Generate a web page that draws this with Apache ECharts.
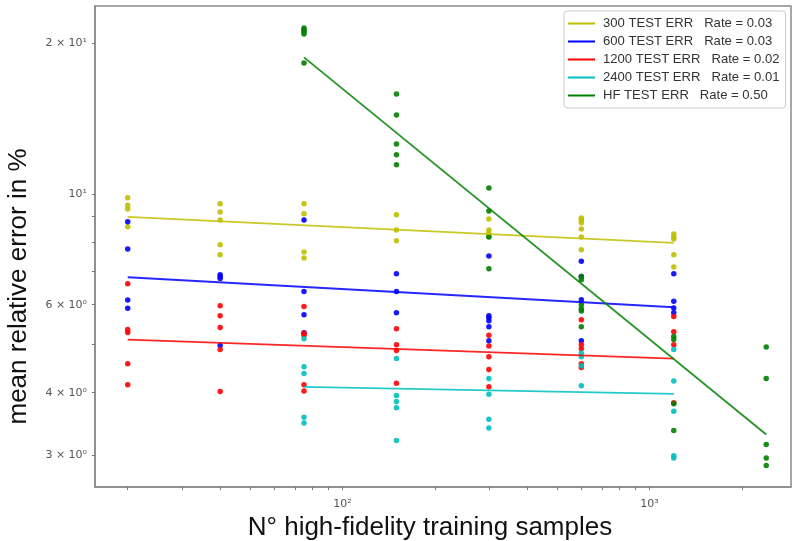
<!DOCTYPE html>
<html><head><meta charset="utf-8">
<script src="https://cdn.jsdelivr.net/npm/echarts@6/dist/echarts.min.js"></script>
<style>html,body{margin:0;padding:0;background:#fff}#c{width:792px;height:541px}</style>
</head><body><div id="c"></div>
<script>
// N° of high-fidelity training samples (x columns)
const xSamples = [20, 40, 75, 150, 300, 600, 1200, 2400];

// mean relative error (%) per column, for each model
const err300 = [
  [9.82, 9.49, 9.33, 8.59],
  [9.55, 9.20, 8.87, 7.91, 7.55],
  [9.55, 9.12, 7.65, 7.44],
  [9.08, 8.47, 8.06],
  [8.91, 8.47, 8.35, 8.22],
  [8.95, 8.87, 8.75, 8.51, 8.20, 7.73],
  [8.31, 8.20, 8.12, 7.55, 7.14],
  []
];
const err600 = [
  [8.79, 7.76, 6.13, 5.90],
  [6.89, 6.83, 6.77, 4.97],
  [8.87, 6.38, 5.73, 5.27],
  [6.92, 6.38, 5.78],
  [7.51, 5.70, 5.65, 5.57, 5.42, 5.08],
  [7.33, 6.83, 6.14, 5.08],
  [6.92, 6.10, 5.91, 5.78],
  []
];
const err1200 = [
  [6.61, 5.35, 5.28, 4.57, 4.15],
  [5.97, 5.70, 5.40, 4.88, 4.02],
  [5.95, 5.26, 5.21, 4.15, 4.03],
  [5.37, 4.99, 4.86, 4.18],
  [5.21, 4.96, 4.72, 4.45, 4.11],
  [5.60, 4.99, 4.90, 4.57, 4.49],
  [5.68, 5.30, 4.99, 3.82],
  []
];
const err2400 = [
  [],
  [],
  [5.13, 4.51, 4.37, 3.57, 3.48],
  [4.68, 3.95, 3.84, 3.73, 3.21],
  [4.27, 3.97, 3.54, 3.40],
  [4.80, 4.72, 4.53, 4.13],
  [4.88, 4.22, 3.67, 2.99, 2.96],
  []
];
const errHF = [
  [],
  [],
  [21.48, 21.28, 21.10, 20.90, 18.28],
  [15.85, 14.39, 12.59, 11.97, 11.43],
  [10.28, 9.24, 8.20, 7.08],
  [6.83, 6.73, 6.00, 5.89, 5.83, 5.42],
  [5.18, 5.11, 3.80, 3.36],
  [4.94, 4.27, 3.15, 2.96, 2.86]
];

// fitted power-law lines (endpoints)
const fitX300 = [20, 1200],  fitY300 = [8.99, 7.98];
const fitX600 = [20, 1200],  fitY600 = [6.81, 5.93];
const fitX1200 = [20, 1200], fitY1200 = [5.11, 4.68];
const fitX2400 = [75, 1200], fitY2400 = [4.11, 3.98];
const fitXHF = [75, 2400],   fitYHF = [18.76, 3.30];

const legendNames = [
  '300 TEST ERR   Rate = 0.03',
  '600 TEST ERR   Rate = 0.03',
  '1200 TEST ERR   Rate = 0.02',
  '2400 TEST ERR   Rate = 0.01',
  'HF TEST ERR   Rate = 0.50'
];

// axis ticks / labels
const xTickValues = [20,30,40,50,60,70,80,90,100,200,300,400,500,600,700,800,900,1000,2000];
const xLabelValues = [100, 1000];
const xLabelText = {100: '10²', 1000: '10³'};
const yTickValues = [3,4,5,6,7,8,9,10,20];
const yLabelValues = [3, 4, 6, 10, 20];
const yLabelText = {3: '3 × 10⁰', 4: '4 × 10⁰', 6: '6 × 10⁰', 10: '10¹', 20: '2 × 10¹'};

const colors = ['#bfbf00', '#0000ff', '#ff0000', '#00bfbf', '#008000'];
const groups = [err300, err600, err1200, err2400, errHF];
const fits = [[fitX300, fitY300], [fitX600, fitY600], [fitX1200, fitY1200], [fitX2400, fitY2400], [fitXHF, fitYHF]];

function toPoints(cols) {
  const out = [];
  cols.forEach((vals, i) => vals.forEach(v => out.push([xSamples[i], v])));
  return out;
}

const series = [];
groups.forEach((g, k) => {
  series.push({
    type: 'scatter', name: 'pts' + k, data: toPoints(g),
    symbolSize: 5.5, itemStyle: {color: colors[k], opacity: 0.9}, z: 2
  });
  series.push({
    type: 'line', name: legendNames[k], color: colors[k],
    data: fits[k][0].map((x, i) => [x, fits[k][1][i]]),
    showSymbol: false, symbol: 'none',
    lineStyle: {color: colors[k], width: 1.8, opacity: 0.85}, z: 3
  });
});

const axisLineStyle = {color: '#8a8a8a', width: 1.5};
const labelFont = {fontFamily: 'DejaVu Sans', fontSize: 11, color: '#555'};

const chart = echarts.init(document.getElementById('c'));
chart.setOption({
  animation: false,
  backgroundColor: '#fff',
  grid: {left: 95, right: 1, top: 6, bottom: 54, outerBoundsMode: 'none', containLabel: false,
         show: true, borderColor: '#8a8a8a', borderWidth: 1.5, backgroundColor: 'transparent'},
  legend: {
    data: legendNames, orient: 'vertical', left: 564, top: 11,
    icon: 'rect', itemWidth: 27, itemHeight: 2, itemGap: 5,
    padding: [6, 6, 6, 4],
    borderColor: '#cccccc', borderWidth: 1, borderRadius: 3, backgroundColor: '#fff',
    textStyle: {fontFamily: 'Liberation Sans', fontSize: 13.1, color: '#333', padding: [0, 0, 0, 3]}
  },
  xAxis: {
    type: 'log', logBase: 10, min: 15.65, max: 2890,
    name: 'N° high-fidelity training samples', nameLocation: 'middle', nameGap: 19,
    nameTextStyle: {fontFamily: 'Liberation Sans', fontSize: 26, color: '#111', padding: [0, 26, 0, 0]},
    axisLine: {show: true, lineStyle: axisLineStyle},
    axisTick: {show: true, length: 3, customValues: xTickValues, lineStyle: {color: '#777'}},
    axisLabel: {customValues: xLabelValues, formatter: v => xLabelText[Math.round(v)] || '', margin: 12, ...labelFont},
    splitLine: {show: false}, minorTick: {show: false}
  },
  yAxis: {
    type: 'log', logBase: 10, min: 2.59, max: 23.77,
    name: 'mean relative error in %', nameLocation: 'middle', nameGap: 63, nameRotate: 90,
    nameTextStyle: {fontFamily: 'Liberation Sans', fontSize: 26, color: '#111', padding: [0, 80, 0, 0]},
    axisLine: {show: true, lineStyle: axisLineStyle},
    axisTick: {show: true, length: 3, customValues: yTickValues, lineStyle: {color: '#777'}},
    axisLabel: {customValues: yLabelValues, formatter: v => yLabelText[Math.round(v)] || '', margin: 8, ...labelFont},
    splitLine: {show: false}, minorTick: {show: false}
  },
  series: series
});
</script>
</body></html>
